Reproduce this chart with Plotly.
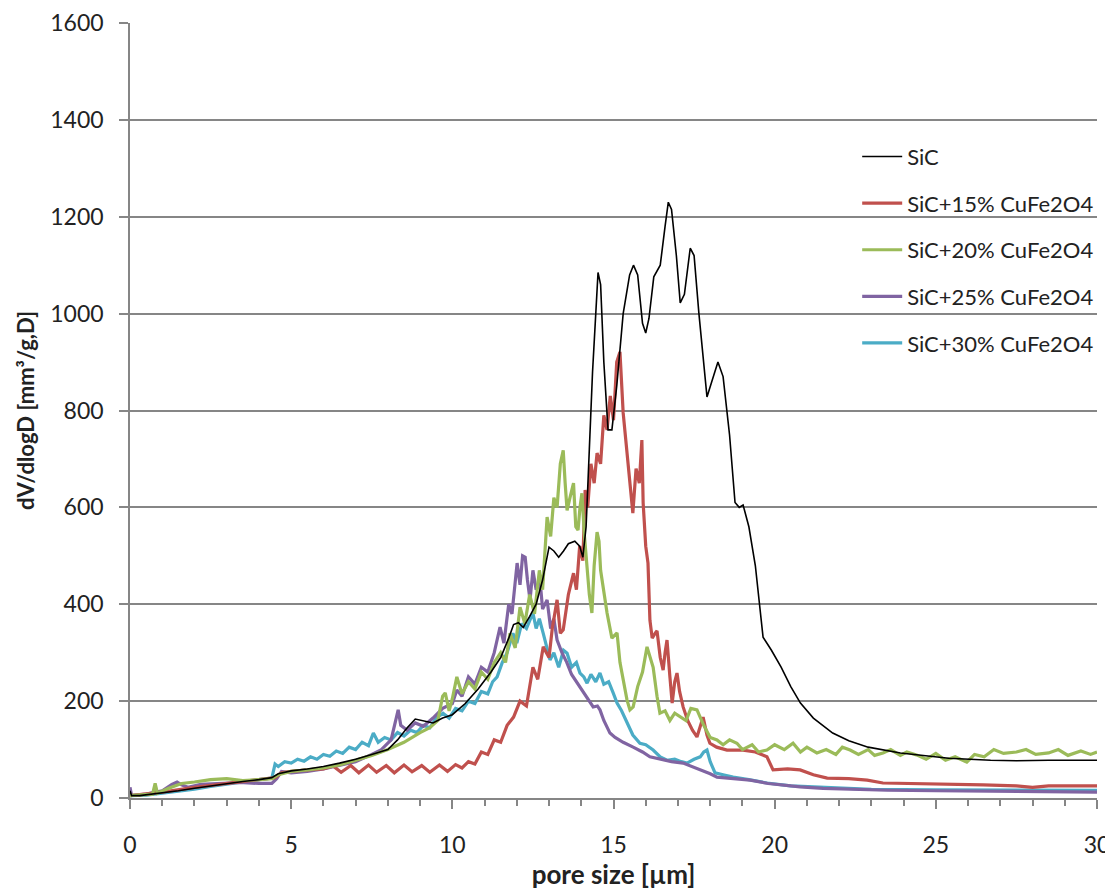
import plotly.graph_objects as go

# ---------------- data ----------------
sic_x = [0, 0.05, 0.3, 1, 1.5, 2, 2.5, 3, 3.5, 4, 4.4, 4.6, 5, 5.5, 6, 6.5, 7, 7.5, 8, 8.3, 8.6, 8.85,
         9.1, 9.4, 9.7, 10.0, 10.4, 10.8, 11.2, 11.5, 11.75, 11.9, 12.05, 12.2, 12.4, 12.6, 12.8, 13.0,
         13.15, 13.3, 13.45, 13.6, 13.8, 13.95, 14.05, 14.15, 14.25, 14.35, 14.45, 14.52, 14.6, 14.7,
         14.83, 14.95, 15.1, 15.3, 15.5, 15.62, 15.75, 15.9, 16.0, 16.1, 16.25, 16.45, 16.6, 16.7, 16.8,
         16.95, 17.07, 17.2, 17.38, 17.5, 17.65, 17.9, 18.05, 18.24, 18.4, 18.6, 18.77, 18.9, 19.02, 19.2,
         19.4, 19.64, 19.9, 20.2, 20.5, 20.8, 21.2, 21.8, 22.3, 22.9, 23.9, 25.0, 25.4, 26.7, 27.5, 28.5, 30]
sic_y = [15, 5, 5, 10, 15, 20, 25, 30, 34, 38, 42, 50, 56, 60, 65, 72, 80, 90, 100, 120, 145, 163,
         160, 155, 165, 172, 195, 225, 260, 290, 330, 358, 362, 352, 375, 400, 450, 518,
         510, 497, 510, 525, 530, 520, 497, 560, 720, 880, 1000, 1085, 1060, 900,
         760, 760, 850, 1000, 1080, 1100, 1080, 980, 960, 990, 1076, 1100, 1180, 1230, 1215,
         1120, 1022, 1040, 1135, 1120, 1000, 828, 860, 900, 870, 750, 610, 600, 605, 560,
         480, 332, 305, 270, 230, 196, 165, 134, 118, 105, 93, 85, 82, 78, 77, 78, 78]

c15_x = [0, 1, 2, 3, 4, 4.5, 4.7, 5, 5.5, 6, 6.3, 6.55, 6.85, 7.1, 7.4, 7.65, 7.95, 8.2, 8.5, 8.75, 9.05,
         9.3, 9.6, 9.85, 10.1, 10.3, 10.5, 10.7, 10.9, 11.1, 11.3, 11.5, 11.7, 11.9, 12.1, 12.3, 12.5,
         12.65, 12.82, 13.0, 13.1, 13.25, 13.35, 13.44, 13.6, 13.76, 13.85, 13.95, 14.05, 14.12, 14.2,
         14.3, 14.4, 14.49, 14.6, 14.7, 14.8, 14.9, 15.0, 15.1, 15.2, 15.25, 15.3, 15.38, 15.45, 15.52,
         15.6, 15.7, 15.8, 15.88, 15.92, 16.0, 16.07, 16.13, 16.2, 16.3, 16.35, 16.45, 16.54, 16.6,
         16.66, 16.75, 16.82, 16.9, 16.97, 17.05, 17.16, 17.3, 17.45, 17.59, 17.7, 17.78, 17.9, 17.99,
         18.2, 18.52, 19.02, 19.4, 19.76, 19.95, 20.4, 20.79, 21.2, 21.63, 22.3, 22.87, 23.36, 24.5,
         25.5, 26.47, 27.5, 28.0, 28.5, 29.2, 30]
c15_y = [5, 12, 22, 30, 38, 42, 52, 55, 58, 60, 66, 53, 67, 52, 68, 53, 67, 52, 68, 54, 67, 53,
         68, 55, 69, 62, 75, 70, 95, 90, 120, 115, 150, 167, 200, 190, 270,
         245, 312, 290, 350, 409, 340, 347, 420, 464, 430, 520, 490, 636, 600,
         690, 650, 712, 690, 790, 760, 830, 780, 900, 921, 850, 795, 740, 692, 640,
         588, 680, 650, 739, 609, 520, 485, 367, 330, 341, 345, 290, 264, 300,
         326, 250, 196, 240, 258, 220, 188, 160, 140, 126, 150, 167, 130, 113,
         105, 99, 99, 95, 85, 58, 60, 58, 48, 41, 40, 37, 31, 30,
         29, 27, 25, 22, 25, 25, 25]

c20_x = [0, 0.7, 0.78, 0.85, 1.2, 1.6, 2.0, 2.5, 3.0, 3.5, 4.0, 4.4, 4.6, 5.0, 5.5, 6.0, 6.5, 7.0, 7.5,
         8.0, 8.5, 9.0, 9.3, 9.55, 9.7, 9.78, 9.9, 10.0, 10.14, 10.3, 10.5, 10.7, 10.9, 11.1, 11.3,
         11.5, 11.65, 11.79, 11.95, 12.1, 12.25, 12.4, 12.55, 12.7, 12.8, 12.94, 13.05, 13.15, 13.25,
         13.35, 13.44, 13.5, 13.56, 13.65, 13.76, 13.83, 13.9, 13.96, 14.02, 14.1, 14.18, 14.25, 14.33,
         14.4, 14.49, 14.55, 14.6, 14.7, 14.8, 14.95, 15.11, 15.2, 15.3, 15.42, 15.51, 15.61, 15.75,
         15.9, 16.04, 16.13, 16.23, 16.35, 16.44, 16.6, 16.75, 16.9, 17.07, 17.25, 17.4, 17.59, 17.8,
         18.0, 18.21, 18.4, 18.6, 18.83, 19.0, 19.3, 19.5, 19.76, 20.0, 20.3, 20.57, 20.8, 21.0, 21.31,
         21.6, 21.9, 22.1, 22.34, 22.6, 22.9, 23.1, 23.36, 23.6, 23.9, 24.1, 24.4, 24.7, 25.0, 25.3,
         25.6, 25.96, 26.2, 26.5, 26.8, 27.1, 27.5, 27.8, 28.1, 28.5, 28.8, 29.1, 29.5, 29.8, 30]
c20_y = [5, 8, 30, 10, 20, 30, 33, 38, 40, 36, 38, 40, 48, 55, 58, 62, 68, 78, 88,
         100, 115, 135, 145, 160, 210, 217, 180, 205, 250, 215, 240, 225, 260, 245, 280,
         300, 280, 340, 310, 394, 360, 420, 380, 470, 430, 580, 540, 620, 600,
         690, 718, 650, 594, 620, 650, 560, 553, 600, 629, 540, 464, 420, 382,
         480, 549, 530, 470, 420, 382, 330, 341, 280, 240, 202, 182, 188, 230,
         260, 312, 290, 270, 210, 175, 180, 160, 175, 167, 160, 185, 182, 150,
         125, 120, 110, 120, 113, 100, 110, 95, 99, 110, 100, 113, 95, 105, 93,
         100, 90, 105, 99, 90, 100, 88, 93, 100, 88, 95, 89, 80, 92, 78,
         85, 74, 90, 85, 100, 92, 95, 100, 90, 93, 100, 88, 97, 90, 95]

c25_x = [0, 0.05, 0.5, 1.0, 1.3, 1.46, 1.6, 1.8, 2.2, 2.8, 3.4, 4.0, 4.4, 4.55, 4.7, 5.0, 5.5, 6.0, 6.5,
         7.0, 7.5, 7.8, 8.1, 8.25, 8.32, 8.4, 8.6, 8.85, 9.1, 9.4, 9.7, 10.0, 10.14, 10.3, 10.5, 10.7,
         10.9, 11.1, 11.3, 11.48, 11.6, 11.75, 11.85, 12.01, 12.1, 12.18, 12.26, 12.33, 12.41, 12.5,
         12.6, 12.72, 12.8, 12.94, 13.05, 13.15, 13.25, 13.4, 13.55, 13.7, 13.85, 13.96, 14.1, 14.25,
         14.37, 14.5, 14.58, 14.7, 14.89, 15.05, 15.3, 15.61, 15.9, 16.13, 16.5, 16.8, 17.16, 17.45,
         17.69, 18.0, 18.21, 18.7, 19.24, 19.8, 20.3, 20.79, 21.5, 22.5, 23.5, 25, 27, 28.5, 30]
c25_y = [22, 5, 8, 15, 28, 33, 27, 22, 28, 30, 32, 30, 30, 40, 55, 52, 55, 60, 68,
         75, 90, 100, 120, 165, 182, 150, 140, 155, 148, 165, 185, 195, 223, 210, 250, 235,
         270, 260, 300, 353, 320, 400, 380, 485, 440, 500, 497, 450, 409, 470,
         430, 450, 390, 409, 350, 370, 326, 300, 280, 255, 240, 229, 215, 200,
         188, 190, 182, 160, 134, 125, 115, 105, 95, 85, 80, 75, 72, 65,
         58, 50, 43, 40, 37, 30, 26, 23, 20, 18, 16, 15, 14, 12, 12]

c30_x = [0, 0.5, 1.0, 1.5, 2.0, 2.5, 3.0, 3.5, 4.0, 4.4, 4.5, 4.6, 4.8, 5.0, 5.2, 5.4, 5.6, 5.8, 6.0,
         6.2, 6.4, 6.6, 6.8, 7.0, 7.2, 7.4, 7.55, 7.7, 7.9, 8.1, 8.3, 8.5, 8.7, 8.9, 9.1, 9.3, 9.5,
         9.71, 9.9, 10.1, 10.3, 10.5, 10.7, 10.9, 11.1, 11.25, 11.39, 11.55, 11.7, 11.88, 12.0, 12.15,
         12.3, 12.5, 12.6, 12.7, 12.82, 12.93, 13.03, 13.15, 13.3, 13.45, 13.56, 13.7, 13.85, 13.96,
         14.08, 14.18, 14.3, 14.45, 14.58, 14.7, 14.85, 14.99, 15.11, 15.25, 15.42, 15.6, 15.82, 16.0,
         16.23, 16.45, 16.66, 16.9, 17.1, 17.28, 17.5, 17.69, 17.8, 17.9, 18.0, 18.15, 18.4, 18.71,
         19.2, 19.76, 20.5, 21.8, 23, 25, 27, 30]
c30_y = [5, 6, 10, 14, 18, 24, 28, 33, 38, 41, 70, 65, 75, 72, 80, 76, 85, 80, 90,
         86, 97, 92, 105, 100, 115, 108, 134, 115, 125, 120, 135, 128, 140, 135, 150, 145, 165,
         175, 165, 185, 180, 200, 195, 220, 215, 240, 250, 280, 300, 340, 320, 360,
         350, 382, 350, 370, 340, 310, 285, 300, 270, 305, 299, 270, 280, 258,
         250, 237, 255, 240, 258, 235, 240, 217, 196, 180, 155, 130, 113, 110,
         99, 85, 78, 80, 75, 72, 80, 85, 95, 99, 75, 52, 48, 43,
         38, 31, 25, 21, 18, 17, 16, 16]

names = ["SiC", "SiC+15% CuFe2O4", "SiC+20% CuFe2O4", "SiC+25% CuFe2O4", "SiC+30% CuFe2O4"]
colors = ["#000000", "#C0504D", "#9BBB59", "#8064A2", "#4BACC6"]
widths = [1.6, 3.2, 3.2, 3.2, 3.2]
series = [(sic_x, sic_y), (c15_x, c15_y), (c20_x, c20_y), (c25_x, c25_y), (c30_x, c30_y)]

FONT = "Lato, 'Open Sans', sans-serif"

fig = go.Figure()
# coloured series first, black on top; legend order kept via legendrank
draw_order = [4, 3, 1, 2, 0]
for i in draw_order:
    xs, ys = series[i]
    fig.add_trace(go.Scatter(
        x=xs, y=ys, mode="lines", name=names[i],
        line=dict(color=colors[i], width=widths[i]),
        legendgroup=names[i], legendrank=i + 1,
    ))

# page has an 8px body margin, so the figure is sized/offset to compensate
fig.update_layout(
    width=1105, height=882,
    margin=dict(l=122, r=16, t=15, b=92, autoexpand=False),
    paper_bgcolor="white", plot_bgcolor="white",
    font=dict(family=FONT, size=23, color="#222222"),
    showlegend=True,
    legend=dict(
        x=0.752, y=0.8545, xanchor="left", yanchor="top",
        bgcolor="rgba(0,0,0,0)", borderwidth=0,
        font=dict(family=FONT, size=22, color="#222222"),
        tracegroupgap=15, itemwidth=40,
    ),
    xaxis=dict(
        range=[0, 30], dtick=5, tick0=0, automargin=False,
        showgrid=False, zeroline=False,
        showline=True, linecolor="#868686", linewidth=1.5,
        ticks="outside", ticklen=9, tickcolor="#868686", tickwidth=1.5,
        minor=dict(dtick=1, ticks="outside", ticklen=6, tickcolor="#868686", tickwidth=1.5),
        tickfont=dict(size=23),
        ticklabelstandoff=17,
        title=dict(text="<b>pore size [µm]</b>", font=dict(size=26), standoff=5),
    ),
    yaxis=dict(
        range=[0, 1600], dtick=200, automargin=False,
        showgrid=True, gridcolor="#868686", gridwidth=1.5,
        zeroline=False,
        showline=True, linecolor="#868686", linewidth=1.5,
        ticks="outside", ticklen=9, tickcolor="#868686", tickwidth=1.5,
        tickfont=dict(size=23),
        ticklabelstandoff=11,
        title=dict(text="<b>dV/dlogD [mm³/g,D]</b>", font=dict(size=22), standoff=10),
    ),
)

fig.write_html("out.html")
